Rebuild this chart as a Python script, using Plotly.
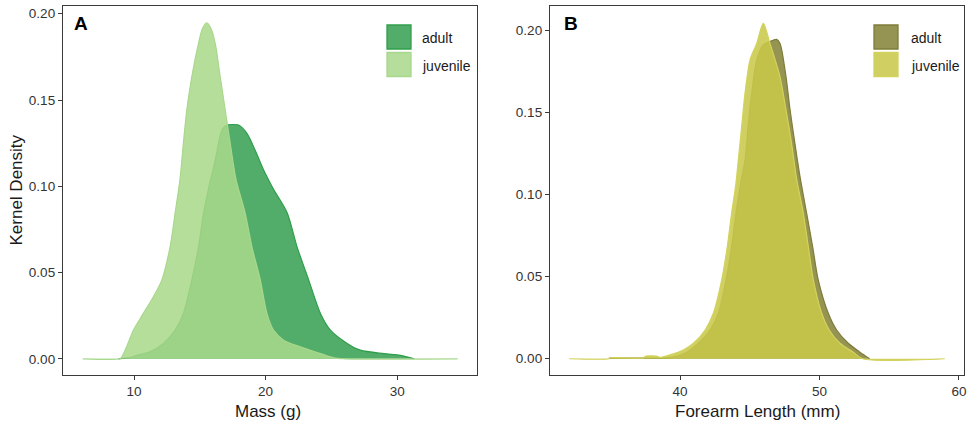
import plotly.graph_objects as go

W, H = 974, 424

# ---------------- data ----------------
mass_adult_x = [8.8, 9.7, 10.2, 11.2, 12.23, 13.12, 13.75, 14.39, 14.9, 15.28, 15.7, 16.17, 16.42,
                16.68, 17.06, 17.5, 17.95, 18.58, 19.2, 19.85, 20.55, 21.63, 22.39, 23.28, 24.17,
                24.93, 26.2, 27.2, 29.0, 30.25, 31.3]
mass_adult_y = [0.0, 0.0008, 0.002, 0.004, 0.0089, 0.0166, 0.0263, 0.0456, 0.0649, 0.0843, 0.100,
                0.1152, 0.1249, 0.1326, 0.1355, 0.1358, 0.1355, 0.1307, 0.121, 0.1094, 0.099,
                0.0848, 0.0649, 0.0456, 0.0263, 0.0166, 0.0089, 0.005, 0.003, 0.002, 0.0]

mass_juv_x = [6.1, 8.9, 9.06, 9.44, 9.95, 10.71, 11.47, 12.11, 12.74, 13.12, 13.5, 13.75, 14.01,
              14.39, 14.9, 15.2, 15.53, 15.85, 16.17, 16.55, 16.93, 17.31, 17.75, 18.45, 18.96,
              19.6, 20.1, 20.6, 21.37, 22.64, 24.17, 25.2, 26.0, 34.6]
mass_juv_y = [0.0, 0.0, 0.001, 0.007, 0.0166, 0.0263, 0.036, 0.0456, 0.0649, 0.0843, 0.1045,
              0.1249, 0.1442, 0.1635, 0.1828, 0.1915, 0.1948, 0.1915, 0.1828, 0.1635, 0.1442,
              0.1249, 0.104, 0.0843, 0.0649, 0.0456, 0.0263, 0.0166, 0.0108, 0.0069, 0.003,
              0.0005, 0.0, 0.0]

fa_adult_x = [34.9, 36.0, 39.5, 40.5, 41.31, 42.15, 42.75, 43.3, 43.7, 44.01, 44.35, 44.66, 44.88,
              45.14, 45.5, 45.95, 46.4, 46.93, 47.17, 47.6, 47.89, 48.24, 48.6, 49.08, 49.51,
              49.91, 50.63, 51.23, 52.06, 52.9, 53.6]
fa_adult_y = [0.0004, 0.0004, 0.001, 0.004, 0.0094, 0.0175, 0.0277, 0.048, 0.0682, 0.0886, 0.107,
              0.121, 0.1413, 0.1616, 0.182, 0.191, 0.193, 0.1945, 0.192, 0.1717, 0.1515, 0.131,
              0.111, 0.0886, 0.0682, 0.048, 0.0277, 0.0175, 0.0094, 0.004, 0.0]

fa_juv_x = [32.06, 34.9, 35.0, 37.4, 37.5, 38.4, 38.5, 39.52, 40.24, 40.96, 41.8, 42.39, 42.99,
            43.39, 43.7, 44.0, 44.18, 44.42, 44.66, 45.02, 45.5, 45.97, 46.45, 47.17, 47.6, 48.0,
            48.35, 48.84, 49.2, 49.56, 50.16, 50.7, 51.47, 52.42, 53.1, 58.98]
fa_juv_y = [0.0, 0.0, 0.0006, 0.0006, 0.0015, 0.0015, 0.0008, 0.003, 0.0053, 0.0094, 0.0175,
            0.0277, 0.048, 0.0682, 0.0886, 0.106, 0.121, 0.1413, 0.1616, 0.182, 0.192, 0.2043,
            0.192, 0.1717, 0.1515, 0.131, 0.11, 0.0886, 0.0682, 0.048, 0.0277, 0.0175, 0.0094,
            0.004, 0.0, 0.0]

groups = ["adult", "juvenile"]
mass_ticks = [10, 20, 30]
fa_ticks = [40, 50, 60]
dens_ticks = [0.0, 0.05, 0.10, 0.15, 0.20]
dens_labels = ["0.00", "0.05", "0.10", "0.15", "0.20"]

# ---------------- styles ----------------
A_cols = {"adult": ("#52ad6a", "#2f9e4a"), "juvenile": ("rgba(169,216,139,0.86)", "#a8d88c")}
A_key = {"adult": "#52ad6a", "juvenile": "#b5dd9b"}
B_cols = {"adult": ("#959452", "#7d7c3a"), "juvenile": ("rgba(201,201,75,0.87)", "#d2d25c")}
B_key = {"adult": "#959452", "juvenile": "#d0d062"}

fig = go.Figure()

def add_curve(x, y, fillc, linec, xa, ya, name):
    fig.add_trace(go.Scatter(x=x, y=y, mode="lines", fill="tozeroy", fillcolor=fillc,
                             line=dict(color=linec, width=1.2, shape="spline", smoothing=0.8),
                             name=name, showlegend=False, xaxis=xa, yaxis=ya))

add_curve(mass_adult_x, mass_adult_y, *A_cols["adult"], "x", "y", "adult")
add_curve(mass_juv_x, mass_juv_y, *A_cols["juvenile"], "x", "y", "juvenile")
add_curve(fa_adult_x, fa_adult_y, *B_cols["adult"], "x2", "y2", "adult")
add_curve(fa_juv_x, fa_juv_y, *B_cols["juvenile"], "x2", "y2", "juvenile")

FONT = "Liberation Sans, Arial, sans-serif"
ydom = [1 - 375 / H, 1 - 6 / H]
axcommon = dict(showgrid=False, zeroline=False, showline=True, mirror=True, linecolor="#3a3a3a",
                linewidth=1.3, ticks="outside", ticklen=4, tickwidth=1.1, tickcolor="#3a3a3a",
                tickfont=dict(family=FONT, size=13.5, color="#333333"), automargin=False)

fig.update_layout(
    width=W, height=H, margin=dict(l=0, r=0, t=0, b=0),
    paper_bgcolor="white", plot_bgcolor="white", showlegend=False,
    xaxis=dict(domain=[63 / W, 477 / W], range=[4.6, 36.07], tickvals=mass_ticks, anchor="y", **axcommon),
    yaxis=dict(domain=ydom, range=[-0.0094, 0.2045], tickvals=dens_ticks, ticktext=dens_labels, anchor="x", **axcommon),
    xaxis2=dict(domain=[550 / W, 964 / W], range=[30.68, 60.36], tickvals=fa_ticks, anchor="y2", **axcommon),
    yaxis2=dict(domain=ydom, range=[-0.0099, 0.2148], tickvals=dens_ticks, ticktext=dens_labels, anchor="x2", **axcommon),
)

def px(xp):
    return xp / W

def py(yp):
    return 1 - yp / H

shapes = []
annots = []
for keys, cols, x0, tx in [(A_key, A_cols, 387, 420), (B_key, B_cols, 874, 909)]:
    for i, g in enumerate(groups):
        y0 = 25 + i * 27.5
        shapes.append(dict(type="rect", xref="paper", yref="paper",
                           x0=px(x0), x1=px(x0 + 24), y0=py(y0 + 24), y1=py(y0),
                           fillcolor=keys[g], line=dict(color=cols[g][1], width=1.3)))
        annots.append(dict(xref="paper", yref="paper", x=px(tx), y=py(y0 + 13), text=g,
                           showarrow=False, xanchor="left", yanchor="middle",
                           font=dict(family=FONT, size=14, color="#1a1a1a")))

annots += [
    dict(xref="paper", yref="paper", x=px(72), y=py(24), text="<b>A</b>", showarrow=False,
         xanchor="left", yanchor="middle", font=dict(family=FONT, size=19, color="black")),
    dict(xref="paper", yref="paper", x=px(562), y=py(24), text="<b>B</b>", showarrow=False,
         xanchor="left", yanchor="middle", font=dict(family=FONT, size=19, color="black")),
    dict(xref="paper", yref="paper", x=px(268), y=py(411), text="Mass (g)", showarrow=False,
         xanchor="center", yanchor="middle", font=dict(family=FONT, size=17, color="#1a1a1a")),
    dict(xref="paper", yref="paper", x=px(757), y=py(411), text="Forearm Length (mm)", showarrow=False,
         xanchor="center", yanchor="middle", font=dict(family=FONT, size=17, color="#1a1a1a")),
    dict(xref="paper", yref="paper", x=px(16), y=py(190.5), text="Kernel Density", showarrow=False,
         textangle=-90, xanchor="center", yanchor="middle", font=dict(family=FONT, size=17, color="#1a1a1a")),
]
fig.update_layout(shapes=shapes, annotations=annots)

fig.write_html("out.html", config={"displayModeBar": False},
               post_script="document.body.style.margin='0';document.body.style.overflow='hidden';")
